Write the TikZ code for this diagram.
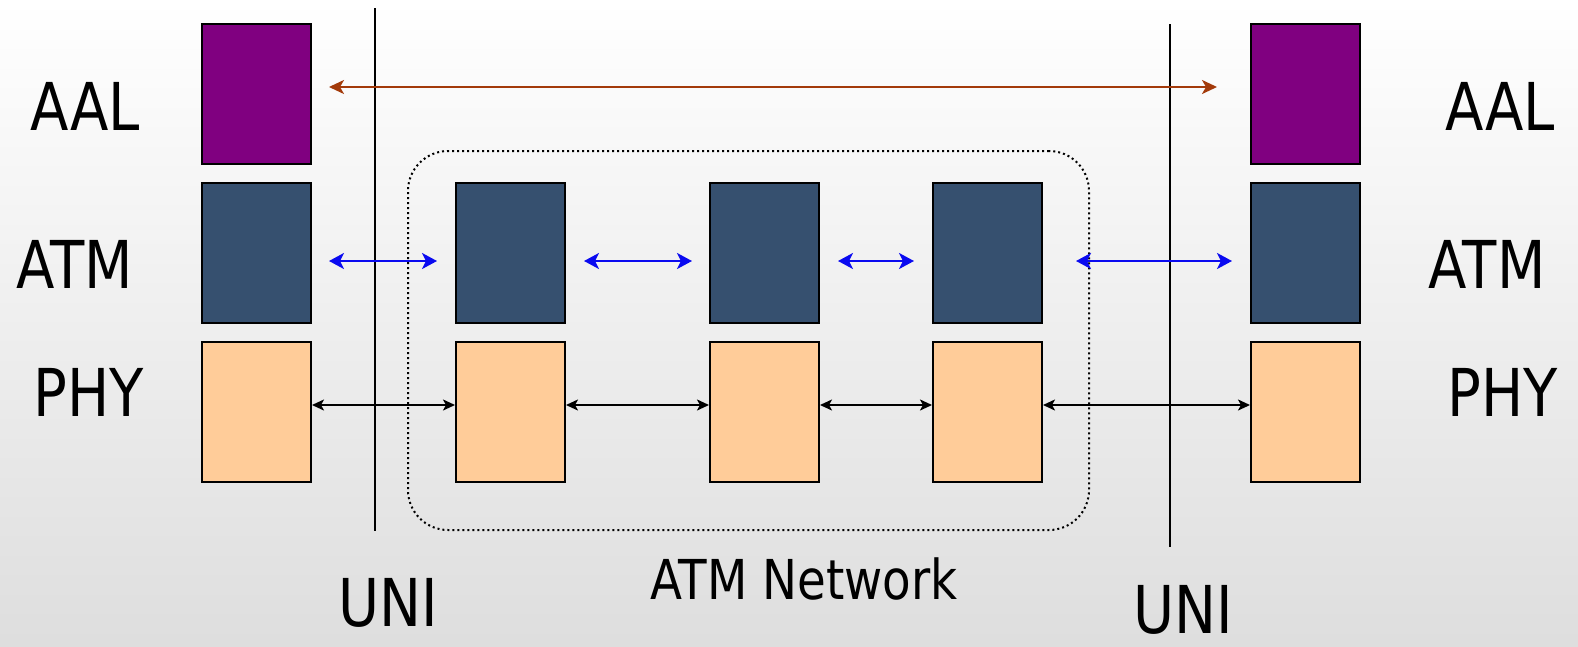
\documentclass[tikz,border=0pt]{standalone}
\usepackage{fontspec}
\setmainfont{DejaVu Sans}
\usetikzlibrary{arrows.meta}
\definecolor{aalc}{HTML}{800080}
\definecolor{atmc}{HTML}{36506F}
\definecolor{phyc}{HTML}{FFCC99}
\definecolor{peerc}{HTML}{A33A0A}
\definecolor{linkc}{HTML}{0A0AF0}
\tikzset{
  layer/.style={draw=black, line width=2pt, minimum width=109pt, minimum height=140pt, inner sep=0pt},
  aal/.style={layer, fill=aalc},
  atm/.style={layer, fill=atmc},
  phy/.style={layer, fill=phyc},
  big/.style={font=\fontsize{66}{70}\selectfont, inner sep=0pt, anchor=base, xscale=0.85},
  mid/.style={font=\fontsize{55}{60}\selectfont, inner sep=0pt, anchor=base, xscale=0.85},
  peer/.style={draw=peerc, line width=2.2pt, >={Stealth[length=15pt, width=14pt, inset=4pt]}, <->},
  cell/.style={draw=linkc, line width=2.5pt, >={Stealth[length=15pt, width=16pt, inset=4pt]}, <->},
  wire/.style={draw=black, line width=2pt, >={Stealth[length=12pt, width=11pt, inset=3pt]}, <->},
  boundary/.style={draw=black, line width=2pt}
}
\begin{document}
\begin{tikzpicture}[x=1pt, y=-1pt]
  % page and background
  \useasboundingbox (0,0) rectangle (1578,646);
  \shade[top color=white, bottom color=black!13] (0,0) rectangle (1578,646);

  % network cloud
  \node[draw=black, line width=2pt, dash pattern=on 2pt off 3pt, rounded corners=40pt,
        minimum width=681pt, minimum height=379pt, inner sep=0pt] (net) at (748.5,340.5) {};

  % UNI boundaries
  \coordinate (u1t) at (375,8);   \coordinate (u1b) at (375,531);
  \coordinate (u2t) at (1170,24); \coordinate (u2b) at (1170,547);
  \draw[boundary] (u1t) -- (u1b);
  \draw[boundary] (u2t) -- (u2b);

  % end system stacks
  \node[aal] (aalL) at (256.5,94) {};
  \node[atm] (atmL) at (256.5,253) {};
  \node[phy] (phyL) at (256.5,412) {};
  \node[aal] (aalR) at (1305.5,94) {};
  \node[atm] (atmR) at (1305.5,253) {};
  \node[phy] (phyR) at (1305.5,412) {};

  % switches
  \node[atm] (atmA) at (510.5,253) {};
  \node[phy] (phyA) at (510.5,412) {};
  \node[atm] (atmB) at (764.5,253) {};
  \node[phy] (phyB) at (764.5,412) {};
  \node[atm] (atmC) at (987.5,253) {};
  \node[phy] (phyC) at (987.5,412) {};

  % AAL peer relation
  \draw[peer, shorten <=17pt, shorten >=33pt] ([yshift=7pt]aalL.east) -- ([yshift=7pt]aalR.west);

  % ATM cell links
  \draw[cell, shorten <=17pt, shorten >=18pt] ([yshift=-8pt]atmL.east) -- ([yshift=-8pt]atmA.west);
  \draw[cell, shorten <=18pt, shorten >=17pt] ([yshift=-8pt]atmA.east) -- ([yshift=-8pt]atmB.west);
  \draw[cell, shorten <=18pt, shorten >=18pt] ([yshift=-8pt]atmB.east) -- ([yshift=-8pt]atmC.west);
  \draw[cell, shorten <=33pt, shorten >=18pt] ([yshift=-8pt]atmC.east) -- ([yshift=-8pt]atmR.west);

  % physical links
  \draw[wire] ([yshift=7pt]phyL.east) -- ([yshift=7pt]phyA.west);
  \draw[wire] ([yshift=7pt]phyA.east) -- ([yshift=7pt]phyB.west);
  \draw[wire] ([yshift=7pt]phyB.east) -- ([yshift=7pt]phyC.west);
  \draw[wire] ([yshift=7pt]phyC.east) -- ([yshift=7pt]phyR.west);

  % layer labels
  \node[big] (tAALL) at (85,130) {AAL};
  \node[big] (tATML) at (75,288) {ATM};
  \node[big] (tPHYL) at (89,416) {PHY};
  \node[big] (tAALR) at (1500,130) {AAL};
  \node[big] (tATMR) at (1487,288) {ATM};
  \node[big] (tPHYR) at (1503,416) {PHY};

  % bottom labels
  \node[big] (tUNI1) at (388,626) {UNI};
  \node[big] (tUNI2) at (1183,633) {UNI};
  \node[mid] (tNet) at (804,599) {ATM Network};
\end{tikzpicture}
\end{document}
